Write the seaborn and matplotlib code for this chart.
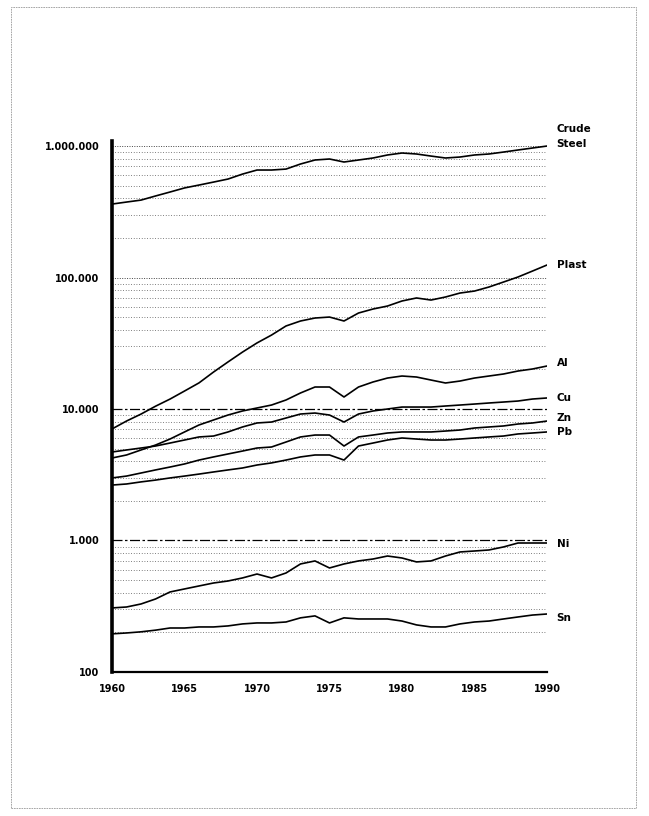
import matplotlib
matplotlib.use("Agg")
import matplotlib.pyplot as plt
from matplotlib.patches import Rectangle
from matplotlib.ticker import FixedLocator, NullFormatter
import seaborn as sns
import pandas as pd

# values (thousand tonnes, log scale)
years = list(range(1960, 1991))
steel = [362000, 375000, 388000, 417000, 447000, 480000, 505000, 532000, 561000, 612000,
         657000, 657000, 668000, 730000, 783000, 797000, 756000, 783000, 811000, 855000,
         885000, 870000, 839000, 811000, 825000, 855000, 870000, 900000, 933000, 966000,
         1000000]
plast = [7050, 8100, 9150, 10500, 11900, 13700, 15800, 19100, 22800, 27100,
         31800, 36500, 42800, 46700, 49200, 50050, 46700, 53700, 57600, 60700,
         66300, 69900, 67400, 71100, 76200, 78900, 84700, 92400, 100900, 112000,
         124500]
al = [4240, 4470, 4880, 5320, 5910, 6690, 7560, 8250, 9000, 9660,
      10180, 10720, 11710, 13240, 14700, 14700, 12340, 14700, 16050, 17200,
      17820, 17510, 16610, 15770, 16320, 17200, 17820, 18460, 19450, 20150,
      21230]
cu = [4710, 4880, 5050, 5230, 5510, 5810, 6130, 6230, 6690, 7300,
      7830, 7960, 8540, 9160, 9320, 9000, 7960, 9160, 9660, 10000,
      10350, 10350, 10350, 10540, 10720, 10910, 11110, 11300, 11500, 11910,
      12130]
zn = [2990, 3090, 3260, 3440, 3620, 3820, 4090, 4320, 4550, 4790,
      5050, 5140, 5610, 6130, 6340, 6340, 5230, 6130, 6340, 6570,
      6690, 6690, 6690, 6800, 6920, 7170, 7300, 7430, 7690, 7830,
      8100]
pb = [2640, 2690, 2790, 2880, 2990, 3090, 3200, 3320, 3440, 3560,
      3750, 3890, 4090, 4320, 4470, 4470, 4090, 5230, 5510, 5810,
      6020, 5910, 5810, 5810, 5910, 6020, 6130, 6230, 6460, 6570,
      6690]
ni = [307, 312, 329, 359, 406, 428, 451, 475, 492, 519,
      556, 519, 566, 663, 699, 618, 663, 699, 723, 762,
      736, 687, 699, 762, 818, 832, 847, 893, 957, 957,
      957]
sn = [195, 198, 202, 208, 216, 216, 220, 220, 224, 232,
      236, 236, 240, 258, 267, 236, 258, 253, 253, 253,
      244, 228, 220, 220, 232, 240, 244, 253, 262, 271,
      276]

series_names = ["Crude\nSteel", "Plast", "Al", "Cu", "Zn", "Pb", "Ni", "Sn"]
series_vals = [steel, plast, al, cu, zn, pb, ni, sn]
label_dy = [7, 0, 2, 0, 2, 0, -1, -3]  # nudge of end labels, points

ytick_vals = [100, 1000, 10000, 100000, 1000000]
ytick_labels = ["100", "1.000", "10.000", "100.000", "1.000.000"]
xtick_vals = [1960, 1965, 1970, 1975, 1980, 1985, 1990]

df = pd.DataFrame({
    "year": years * len(series_names),
    "value": [v for vals in series_vals for v in vals],
    "metal": [n for n in series_names for _ in years],
})

sns.set_style("white")
plt.rcParams["font.family"] = ["DejaVu Sans"]
plt.rcParams["text.color"] = "black"
plt.rcParams["xtick.color"] = "black"
plt.rcParams["ytick.color"] = "black"

fig = plt.figure(figsize=(6.49, 8.16), dpi=100)
ax = fig.add_axes([0.1726, 0.1765, 0.6702, 0.6512])

sns.lineplot(data=df, x="year", y="value", units="metal", estimator=None,
             color="black", linewidth=1.2, ax=ax, legend=False)

ax.set_yscale("log")
ax.set_ylim(100, 1.1e6)
ax.set_xlim(1960, 1990)

# dotted grid at every minor decade step, dash-dot at 1.000 and 10.000
minor = [m * 10 ** e for e in range(2, 6) for m in range(2, 10)]
for v in minor:
    ax.axhline(v, color="#555555", lw=0.6, ls=(0, (1, 2.2)), zorder=0)
for v in [100000, 1000000]:
    ax.axhline(v, color="#444444", lw=0.7, ls=(0, (1, 1.5)), zorder=0)
for v in [1000, 10000]:
    ax.axhline(v, color="black", lw=0.9, ls=(0, (8, 2, 2, 2)), zorder=0)

ax.yaxis.set_major_locator(FixedLocator(ytick_vals))
ax.set_yticklabels(ytick_labels, fontsize=7, fontweight="bold", color="black")
ax.yaxis.set_minor_locator(FixedLocator(minor))
ax.yaxis.set_minor_formatter(NullFormatter())
ax.tick_params(axis="y", which="major", length=0, pad=9)
ax.tick_params(axis="y", which="minor", length=2.5, width=0.8, direction="out", color="black")

ax.set_xticks(xtick_vals)
ax.set_xticklabels([str(x) for x in xtick_vals], fontsize=7, fontweight="bold", color="black")
ax.tick_params(axis="x", which="major", length=6, width=1, direction="inout", pad=6, color="black")

for side in ["top", "right"]:
    ax.spines[side].set_visible(False)
ax.spines["left"].set_linewidth(2.6)
ax.spines["bottom"].set_linewidth(1.6)
ax.spines["left"].set_color("black")
ax.spines["bottom"].set_color("black")
ax.set_xlabel("")
ax.set_ylabel("")

for name, vals, dy in zip(series_names, series_vals, label_dy):
    ax.annotate(name, xy=(years[-1], vals[-1]), xytext=(7, dy),
                textcoords="offset points", va="center", ha="left",
                fontsize=7.5, fontweight="bold", linespacing=1.6,
                color="black", annotation_clip=False)

fig.patches.append(Rectangle((11 / 649, 8 / 816), 625 / 649, 801 / 816,
                             transform=fig.transFigure, fill=False,
                             edgecolor="#999999", lw=0.6, ls=(0, (2, 1))))

fig.savefig("out.png", dpi=100)
